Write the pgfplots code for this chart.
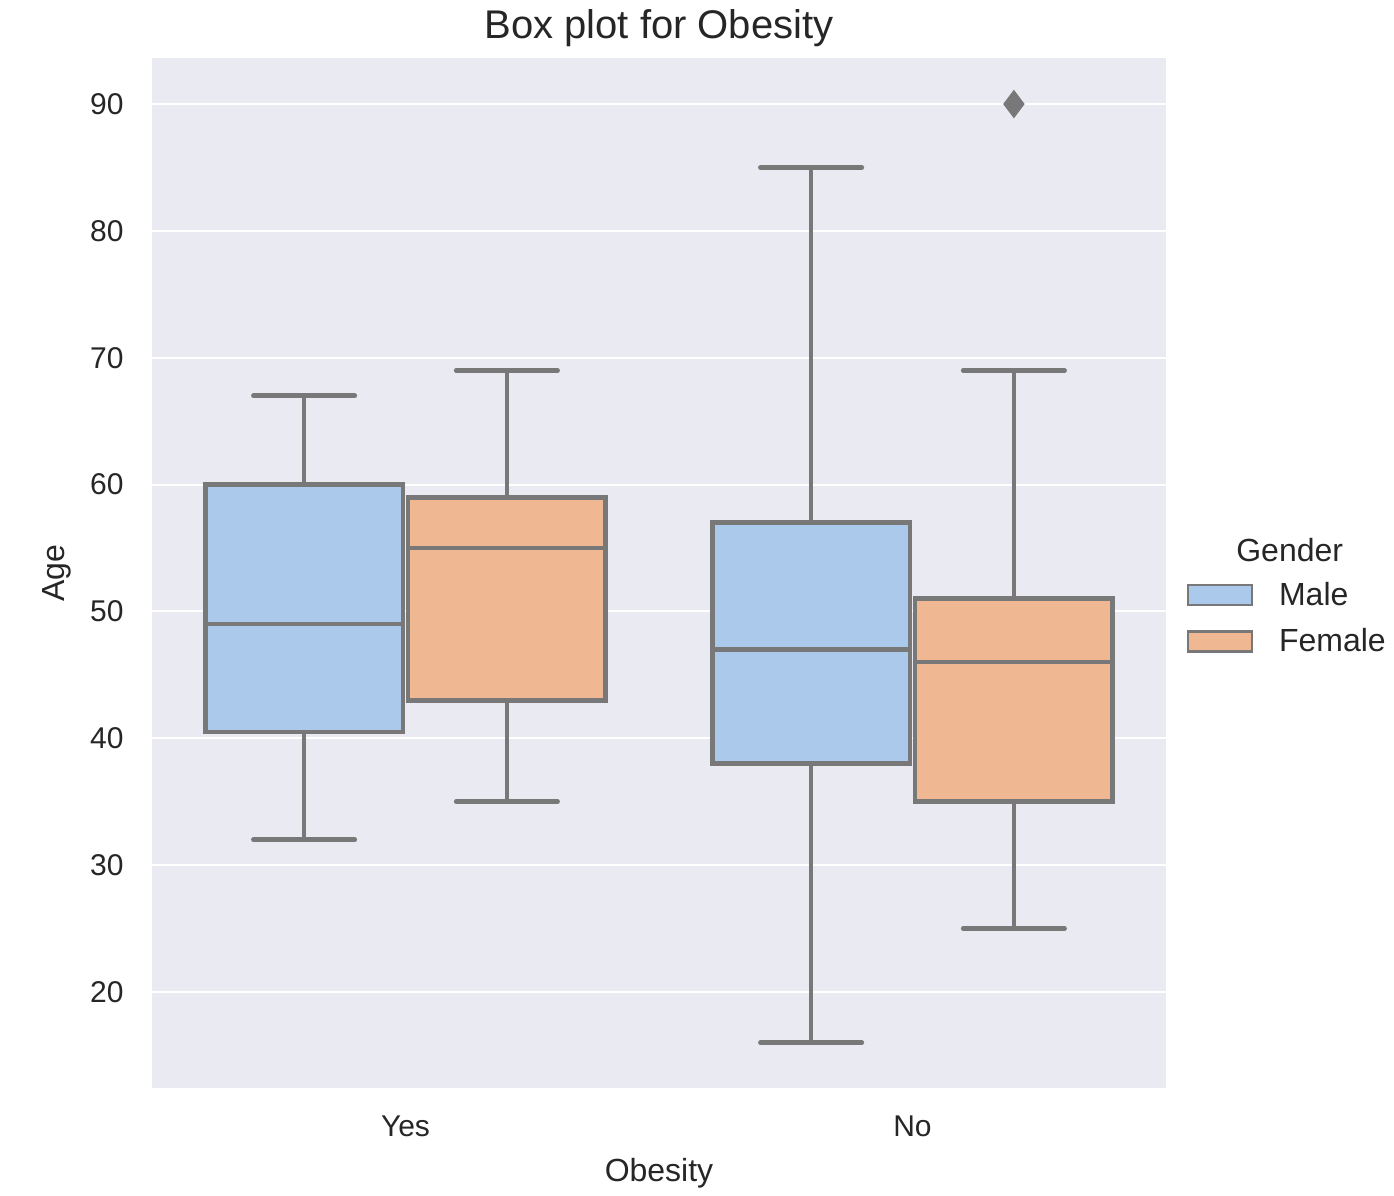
\documentclass[border=0pt]{standalone}
\usepackage{fontspec}
\setmainfont{Liberation Sans}
\usepackage{pgfplots}
\pgfplotsset{compat=1.18}

\definecolor{bg}{HTML}{EAEAF2}
\definecolor{edge}{RGB}{120,120,120}
\definecolor{male}{RGB}{171,201,234}
\definecolor{female}{RGB}{239,183,146}
\definecolor{txt}{HTML}{262626}

\pgfplotsset{
  whisk/.style={draw=edge, line width=2.3bp, line cap=round, mark=none, forget plot},
  boxs/.style={draw=edge, line width=2.3bp, mark=none, forget plot},
}

\begin{document}
\begin{tikzpicture}
\path[use as bounding box] (-76bp,-54bp) rectangle (621bp,544bp);
\begin{axis}[
    at={(0,0)}, anchor=south west,
    scale only axis, width=507bp, height=515bp,
    xmin=-0.5, xmax=1.5, ymin=12.43, ymax=93.63,
    clip=false,
    axis background/.style={fill=bg},
    axis line style={draw=none},
    tick style={draw=none},
    ymajorgrids=true,
    grid style={white, line width=1bp},
    ytick={20,30,40,50,60,70,80,90},
    xtick={0,1}, xticklabels={Yes,No},
    /pgf/number format/assume math mode=true,
    tick label style={font=\fontsize{15bp}{18bp}\selectfont, text=txt},
    yticklabel style={inner sep=0pt, anchor=east, xshift=-14bp},
    xticklabel style={inner sep=0pt, anchor=north, yshift=-13.5bp},
    xlabel={Obesity}, ylabel={Age},
    label style={font=\fontsize{16bp}{19bp}\selectfont, text=txt},
    xlabel style={at={(0.5,0)}, anchor=north, inner sep=0pt, yshift=-35bp},
    ylabel style={at={(0,0.5)}, anchor=south, inner sep=0pt, yshift=40bp},
    title={Box plot for Obesity},
    title style={at={(0.5,1)}, anchor=base, yshift=4bp,
      font=\fontsize{20bp}{24bp}\selectfont, text=txt},
    legend style={at={(1.02,0.456)}, anchor=west, draw=none, fill=none,
      font=\fontsize{16bp}{19bp}\selectfont, text=txt, row sep=6bp,
      inner xsep=0pt, /tikz/every odd column/.append style={column sep=11bp}},
    legend cell align=left,
    legend image code/.code={\draw[#1] (0bp,-5bp) rectangle (32bp,5bp);},
]

% ---- Obesity = Yes, Male: 32 / 40.5 / 49 / 60 / 67
\addplot[whisk] coordinates {(-0.2,32) (-0.2,40.5)};
\addplot[whisk] coordinates {(-0.2,60) (-0.2,67)};
\addplot[whisk] coordinates {(-0.3,32) (-0.1,32)};
\addplot[whisk] coordinates {(-0.3,67) (-0.1,67)};
\addplot[boxs, fill=male] coordinates {(-0.395,40.5) (-0.005,40.5) (-0.005,60) (-0.395,60)} -- cycle;
\addplot[boxs] coordinates {(-0.395,49) (-0.005,49)};

% ---- Obesity = Yes, Female: 35 / 43 / 55 / 59 / 69
\addplot[whisk] coordinates {(0.2,35) (0.2,43)};
\addplot[whisk] coordinates {(0.2,59) (0.2,69)};
\addplot[whisk] coordinates {(0.1,35) (0.3,35)};
\addplot[whisk] coordinates {(0.1,69) (0.3,69)};
\addplot[boxs, fill=female] coordinates {(0.005,43) (0.395,43) (0.395,59) (0.005,59)} -- cycle;
\addplot[boxs] coordinates {(0.005,55) (0.395,55)};

% ---- Obesity = No, Male: 16 / 38 / 47 / 57 / 85
\addplot[whisk] coordinates {(0.8,16) (0.8,38)};
\addplot[whisk] coordinates {(0.8,57) (0.8,85)};
\addplot[whisk] coordinates {(0.7,16) (0.9,16)};
\addplot[whisk] coordinates {(0.7,85) (0.9,85)};
\addplot[boxs, fill=male] coordinates {(0.605,38) (0.995,38) (0.995,57) (0.605,57)} -- cycle;
\addplot[boxs] coordinates {(0.605,47) (0.995,47)};

% ---- Obesity = No, Female: 25 / 35 / 46 / 51 / 69, outlier 90
\addplot[whisk] coordinates {(1.2,25) (1.2,35)};
\addplot[whisk] coordinates {(1.2,51) (1.2,69)};
\addplot[whisk] coordinates {(1.1,25) (1.3,25)};
\addplot[whisk] coordinates {(1.1,69) (1.3,69)};
\addplot[boxs, fill=female] coordinates {(1.005,35) (1.395,35) (1.395,51) (1.005,51)} -- cycle;
\addplot[boxs] coordinates {(1.005,46) (1.395,46)};
\addplot[only marks, mark=diamond*, mark size=6.8bp, forget plot,
  mark options={fill=edge, draw=edge, line width=0.4bp}] coordinates {(1.2,90)};

\addlegendimage{draw=edge, fill=male, line width=1.2bp}
\addlegendentry{Male}
\addlegendimage{draw=edge, fill=female, line width=1.2bp}
\addlegendentry{Female}

\node[font=\fontsize{16bp}{19bp}\selectfont, text=txt]
  at (rel axis cs:1.122,0.522) {Gender};
\end{axis}
\end{tikzpicture}
\end{document}
